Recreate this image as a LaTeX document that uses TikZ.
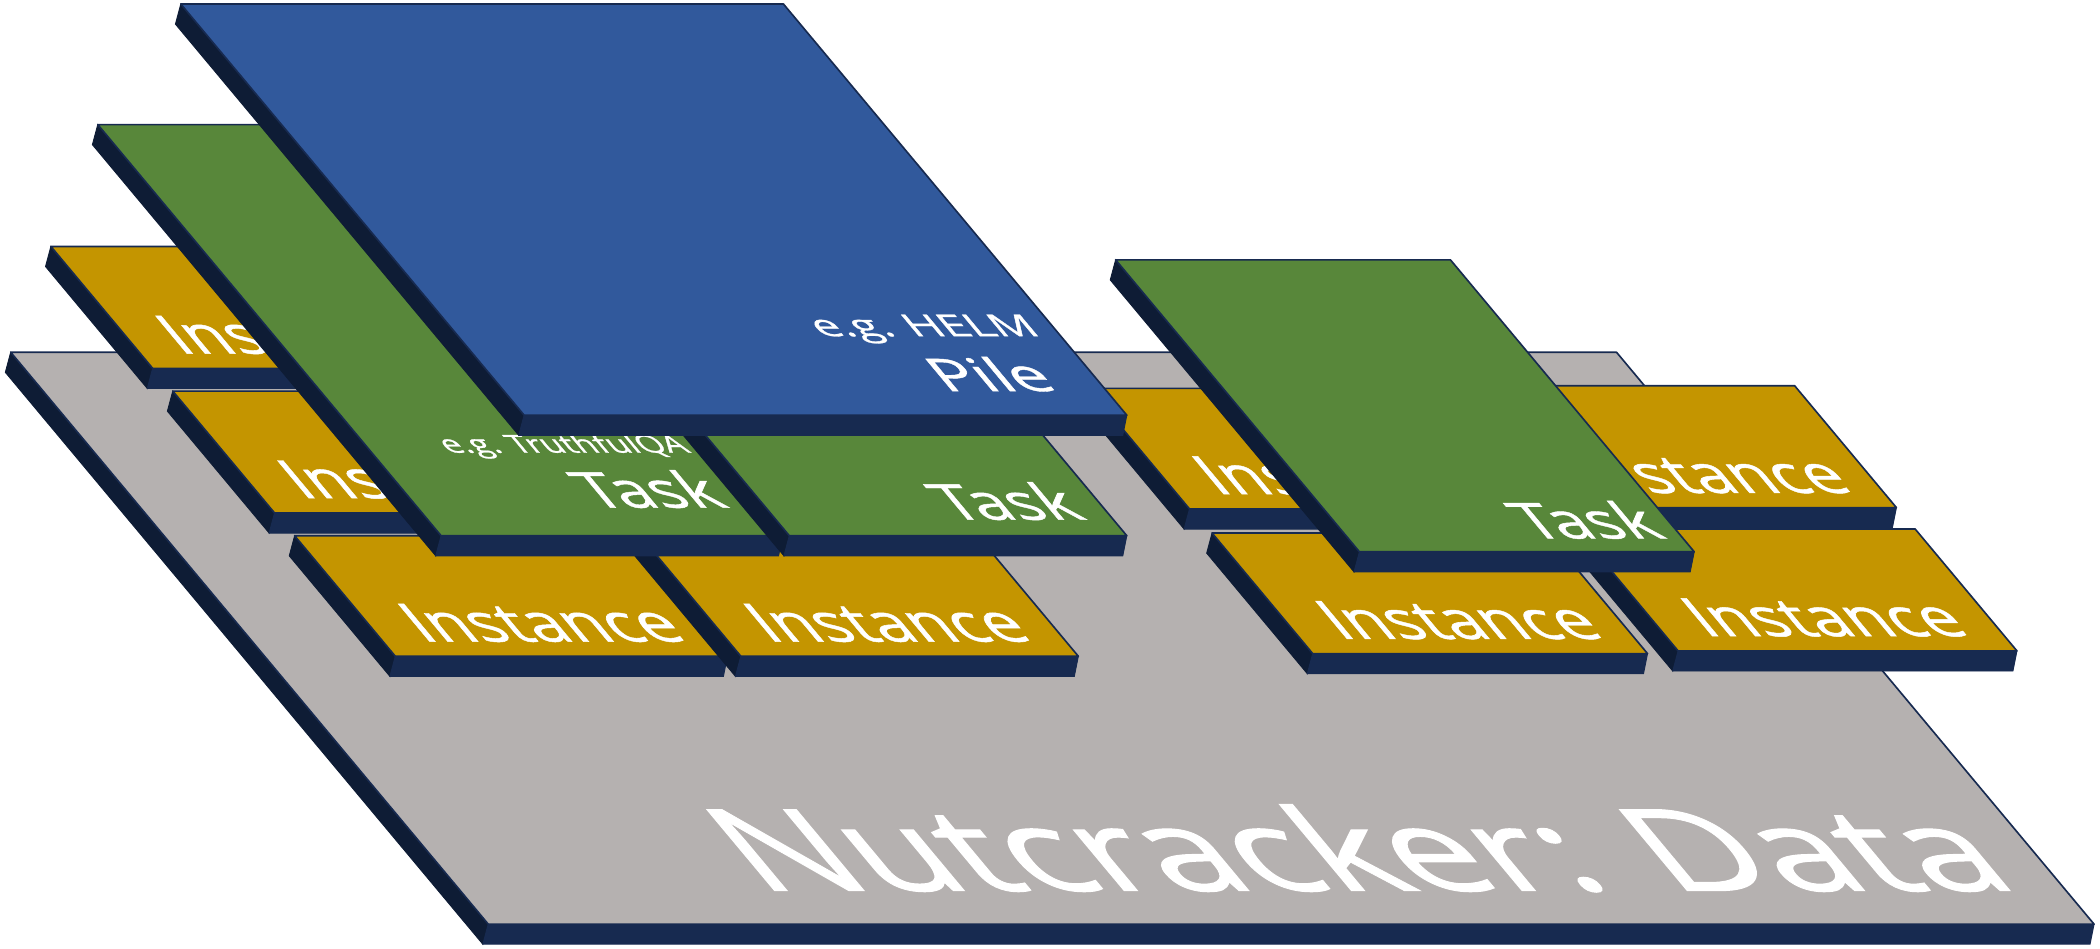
\documentclass[tikz,border=0pt]{standalone}
\usepackage{fontspec}
\setmainfont{Open Sans}
\newfontfamily\slabfont{Open Sans}[FakeBold=0.9]
\usetikzlibrary{calc}
\definecolor{ncGray}{HTML}{B5B1B0}
\definecolor{ncBlue}{HTML}{31599C}
\definecolor{ncGreen}{HTML}{58873A}
\definecolor{ncGold}{HTML}{C49500}
\definecolor{ncFront}{HTML}{172A50}
\definecolor{ncSide}{HTML}{0E1C35}
\tikzset{
    topface/.style={draw=ncFront, line width=0.35pt, line join=round},
    frontface/.style={fill=ncFront, draw=ncFront, line width=0.2pt},
    sideface/.style={fill=ncSide, draw=ncSide, line width=0.2pt},
    slabtext/.style={text=white, inner sep=0pt, xslant=-0.835},
    insttext/.style={slabtext, yscale=0.78, font={\slabfont\fontsize{14.4}{14.4}\selectfont}, anchor=base west},
    tasktext/.style={slabtext, yscale=0.74, font={\slabfont\fontsize{14.2}{14.2}\selectfont}, anchor=base east}
}
% \drawslab{x}{y}{width}{depth}{colour}{name}
\newcommand{\drawslab}[6]{%
    \coordinate (#6-tl) at (#1,#2);
    \coordinate (#6-tr) at ($(#6-tl)+(#3,0)$);
    \coordinate (#6-bl) at ($(#6-tl)+(0.835*#4,#4)$);
    \coordinate (#6-br) at ($(#6-bl)+(#3,0)$);
    \filldraw[sideface] (#6-tl) -- (#6-bl) -- ($(#6-bl)+(-4,15)$) -- ($(#6-tl)+(-4,15)$) -- cycle;
    \filldraw[frontface] (#6-bl) -- (#6-br) -- ($(#6-br)+(-3,15)$) -- ($(#6-bl)+(-4,15)$) -- cycle;
    \filldraw[topface, fill=#5] (#6-tl) -- (#6-tr) -- (#6-br) -- (#6-bl) -- cycle;
}

\begin{document}
\begin{tikzpicture}[x=0.1mm, y=-0.1mm]
\useasboundingbox (0,0) rectangle (1568,708);

% data layer
\drawslab{8}{263}{1199}{427}{ncGray}{base}
\node[slabtext, yscale=0.71, font={\slabfont\fontsize{34}{34}\selectfont}, anchor=base west] (base-txt) at (566,665) {Nutcracker: Data};

% instances, left group
\drawslab{38}{184}{248}{91}{ncGold}{ia}
\node[insttext] (ia-txt) at ($(ia-bl)+(20,-11)$) {Instance};
\drawslab{129}{292}{248}{91}{ncGold}{ib}
\node[insttext] (ib-txt) at ($(ib-bl)+(20,-11)$) {Instance};
\drawslab{220}{400}{248}{90}{ncGold}{ic}
\node[insttext] (ic-txt) at ($(ic-bl)+(20,-11)$) {Instance};
\drawslab{478}{400}{252}{90}{ncGold}{id}
\node[insttext] (id-txt) at ($(id-bl)+(20,-11)$) {Instance};

% instances, right group
\drawslab{813}{290}{250}{90}{ncGold}{ie}
\node[insttext] (ie-txt) at ($(ie-bl)+(20,-11)$) {Instance};
\drawslab{1090}{288}{250}{91}{ncGold}{if}
\node[insttext] (if-txt) at ($(if-bl)+(20,-11)$) {Instance};
\drawslab{905}{398}{250}{90}{ncGold}{ig}
\node[insttext] (ig-txt) at ($(ig-bl)+(20,-11)$) {Instance};
\drawslab{1177}{395}{253}{91}{ncGold}{ih}
\node[insttext] (ih-txt) at ($(ih-bl)+(20,-11)$) {Instance};

% tasks
\drawslab{73}{93}{255}{307}{ncGreen}{ta}
\node[tasktext] (ta-txt) at (546,379) {Task};
\node[slabtext, yscale=0.72, font={\slabfont\fontsize{7.3}{7.3}\selectfont}, anchor=base east] (ta-ex) at (517,338) {e.g. TruthfulQA};
\drawslab{333}{93}{252}{307}{ncGreen}{tb}
\node[tasktext] (tb-txt) at (813,388) {Task};
\drawslab{833}{194}{250}{218}{ncGreen}{tc}
\node[tasktext] (tc-txt) at (1246,402) {Task};

% pile
\drawslab{135}{3}{450}{307}{ncBlue}{pile}
\node[slabtext, yscale=0.66, font={\slabfont\fontsize{14.5}{14.5}\selectfont}, anchor=base east] (pile-txt) at (792,292) {Pile};
\node[slabtext, yscale=0.64, font={\slabfont\fontsize{10}{10}\selectfont}, anchor=base east] (pile-ex) at (779,251) {e.g. HELM};
\end{tikzpicture}
\end{document}
